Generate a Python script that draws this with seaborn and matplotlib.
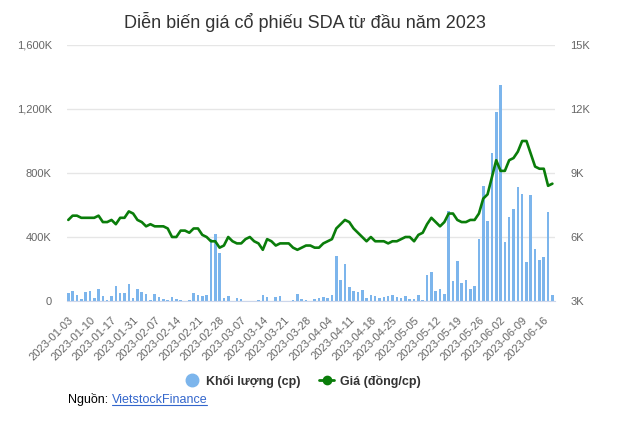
import matplotlib
matplotlib.use("Agg")
import matplotlib.pyplot as plt
import matplotlib.transforms as mtransforms
from matplotlib.lines import Line2D
import numpy as np
import pandas as pd
import seaborn as sns

# Khối lượng giao dịch theo phiên (nghìn cp), 03/01/2023 -> 20/06/2023
khoi_luong = [
    50, 62, 37, 15, 58, 62, 21, 75, 31, 8,
    31, 94, 50, 50, 106, 19, 75, 56, 44, 8,
    44, 25, 15, 6, 25, 15, 8, 2, 8, 52,
    37, 31, 37, 390, 420, 302, 20, 32, 2, 20,
    13, 2, 2, 2, 8, 38, 26, 2, 25, 31,
    2, 2, 7, 44, 14, 8, 2, 12, 19, 25,
    19, 37, 281, 131, 231, 87, 65, 56, 71, 19,
    37, 31, 19, 25, 31, 37, 25, 19, 31, 12,
    12, 37, 6, 162, 181, 62, 75, 44, 562, 125,
    250, 112, 131, 75, 94, 387, 719, 500, 925, 1181,
    1350, 369, 525, 575, 712, 669, 244, 662, 325, 256,
    275, 556, 37,
]

# Giá đóng cửa (đồng/cp)
gia = [
    6800, 7000, 7000, 6900, 6900, 6900, 6900, 7000, 6700, 6700,
    6800, 6600, 6900, 6900, 7200, 7100, 6800, 6700, 6500, 6600,
    6500, 6500, 6500, 6400, 6000, 6000, 6300, 6300, 6200, 6400,
    6400, 6100, 6000, 5800, 5800, 5500, 5600, 6000, 5800, 5700,
    5700, 5900, 6000, 5800, 5700, 5400, 5900, 5800, 5600, 5700,
    5700, 5700, 5500, 5400, 5500, 5600, 5600, 5500, 5500, 5700,
    5800, 5900, 6400, 6600, 6800, 6700, 6400, 6200, 6000, 5800,
    6000, 5800, 5800, 5800, 5700, 5800, 5800, 5900, 6000, 6000,
    5800, 6100, 6200, 6600, 6900, 6700, 6500, 6700, 7100, 7100,
    6800, 6700, 6700, 6800, 6800, 7100, 7800, 8000, 8800, 9600,
    9100, 9100, 9600, 9700, 10000, 10500, 10500, 9900, 9300, 9200,
    9200, 8400, 8500,
]

# nhãn trục x (mỗi 5 phiên)
nhan_ngay = [
    "2023-01-03", "2023-01-10", "2023-01-17", "2023-01-31", "2023-02-07",
    "2023-02-14", "2023-02-21", "2023-02-28", "2023-03-07", "2023-03-14",
    "2023-03-21", "2023-03-28", "2023-04-04", "2023-04-11", "2023-04-18",
    "2023-04-25", "2023-05-05", "2023-05-12", "2023-05-19", "2023-05-26",
    "2023-06-02", "2023-06-09", "2023-06-16",
]

df = pd.DataFrame({
    "phien": np.arange(len(gia)),
    "khoi_luong": np.array(khoi_luong) * 1000,
    "gia": gia,
})

sns.set_style("white")
plt.rcParams["font.family"] = ["Liberation Sans", "DejaVu Sans"]

fig = plt.figure(figsize=(6.29, 4.25), dpi=100)
ax = fig.add_axes([67 / 629, 1 - 301 / 425, 488 / 629, 256 / 425])

sns.barplot(data=df, x="phien", y="khoi_luong", ax=ax, color="#7cb5ec",
            saturation=1, width=0.6, native_scale=True, zorder=2,
            linewidth=0, edgecolor="none")
ax.set_ylim(0, 1_600_000)
ax.set_yticks(np.arange(0, 1_600_001, 400_000))
ax.set_yticklabels(["0" if v == 0 else f"{v / 1000:,.0f}K" for v in ax.get_yticks()])
ax.set_xlim(-0.3, 112.6)
ax.set_xticks(df["phien"][::5])
ax.set_xticklabels(nhan_ngay, rotation=45, ha="right", rotation_mode="anchor")
# dịch nhãn ngày sang trái một chút cho giống bản gốc
dich = mtransforms.ScaledTranslation(-3 / 72, 2 / 72, fig.dpi_scale_trans)
for lbl in ax.get_xticklabels():
    lbl.set_transform(lbl.get_transform() + dich)
ax.set_xlabel("")
ax.set_ylabel("")
ax.yaxis.grid(True, color="#e6e6e6", lw=1)
ax.set_axisbelow(True)
for s in ["top", "left", "right"]:
    ax.spines[s].set_visible(False)
ax.spines["bottom"].set_color("#ccd6eb")
ax.tick_params(axis="x", length=7, color="#ccd6eb", labelcolor="#666666",
               labelsize=8, pad=3)
ax.tick_params(axis="y", length=0, labelcolor="#666666", labelsize=8, pad=11)

ax2 = ax.twinx()
sns.lineplot(data=df, x="phien", y="gia", ax=ax2, color="#0a7d0a", lw=1.9)
ax2.set_ylim(3000, 15000)
ax2.set_yticks(np.arange(3000, 15001, 3000))
ax2.set_yticklabels([f"{v / 1000:.0f}K" for v in ax2.get_yticks()])
ax2.set_ylabel("")
for s in ax2.spines.values():
    s.set_visible(False)
ax2.tick_params(axis="y", length=0, labelcolor="#666666", labelsize=8, pad=11)

fig.text(305 / 629, 1 - 22 / 425, "Diễn biến giá cổ phiếu SDA từ đầu năm 2023",
         ha="center", va="center", fontsize=13, color="#333333")

handles = [
    Line2D([], [], marker="o", ls="none", color="#7cb5ec", markersize=9),
    Line2D([], [], marker="o", color="#0a7d0a", lw=2, markersize=6),
]
fig.legend(handles, ["Khối lượng (cp)", "Giá (đồng/cp)"], loc="center",
           bbox_to_anchor=(303 / 629, 1 - 381 / 425), ncol=2, frameon=False,
           prop={"weight": "bold", "size": 9}, handlelength=1.2,
           handletextpad=0.5, columnspacing=1.5, labelcolor="#333333")

t1 = fig.text(68 / 629, 1 - 400 / 425, "Nguồn: ", ha="left", va="center",
              fontsize=9, color="#000000")
fig.canvas.draw()
r = fig.canvas.get_renderer()
bb = t1.get_window_extent(r)
t2 = fig.text(bb.x1 / fig.bbox.width, 1 - 400 / 425, "VietstockFinance",
              ha="left", va="center", fontsize=9, color="#3366cc")
fig.canvas.draw()
bb2 = t2.get_window_extent(r)
fig.add_artist(Line2D([bb2.x0 / fig.bbox.width, bb2.x1 / fig.bbox.width],
                      [(bb2.y0 + 1) / fig.bbox.height] * 2,
                      color="#3366cc", lw=0.8))

fig.savefig("out.png", dpi=100)
